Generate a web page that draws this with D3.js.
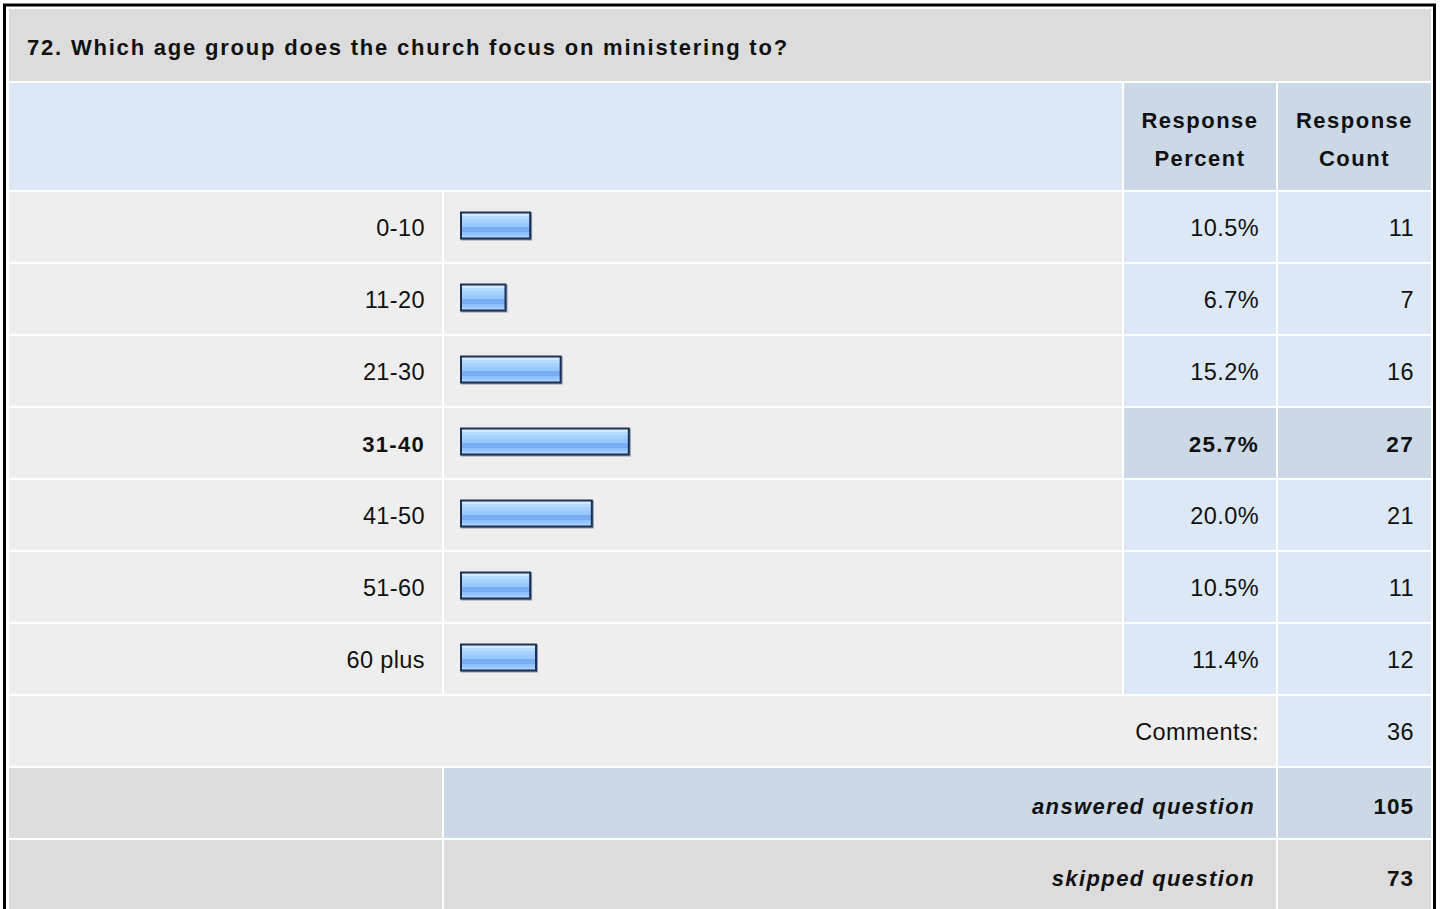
<!DOCTYPE html>
<html>
<head>
<meta charset="utf-8">
<script src="https://cdn.jsdelivr.net/npm/d3@7"></script>
<style>
  html, body { margin: 0; padding: 0; background: #ffffff; }
  svg { display: block; }
  text { font-family: "Liberation Sans", Arial, Helvetica, sans-serif; fill: #111; }
</style>
</head>
<body>
<div id="chart"></div>
<script>
// ---- data ----
const title = "72. Which age group does the church focus on ministering to?";
const headerPercent = ["Response", "Percent"];
const headerCount = ["Response", "Count"];
const categories = ["0-10", "11-20", "21-30", "31-40", "41-50", "51-60", "60 plus"];
const percents = [10.5, 6.7, 15.2, 25.7, 20.0, 10.5, 11.4];
const counts = [11, 7, 16, 27, 21, 11, 12];
const commentsLabel = "Comments:";
const commentsCount = 36;
const summaryLabels = ["answered question", "skipped question"];
const summaryCounts = [105, 73];

// ---- layout ----
const W = 1440, H = 909;
const svg = d3.select("#chart").append("svg").attr("width", W).attr("height", H);

const defs = svg.append("defs");
const grad = defs.append("linearGradient").attr("id", "barGrad")
  .attr("x1", 0).attr("y1", 0).attr("x2", 0).attr("y2", 1);
[
  [0, "#d3ebff"], [0.10, "#d3ebff"], [0.10, "#b7dcff"], [0.22, "#b7dcff"],
  [0.22, "#a4d1ff"], [0.39, "#a4d1ff"], [0.39, "#99c8ff"], [0.55, "#99c8ff"],
  [0.55, "#77adf2"], [0.79, "#77adf2"], [0.79, "#8fc1fb"], [0.89, "#8fc1fb"],
  [0.89, "#a3cfff"], [1, "#a3cfff"]
].forEach(([o, c]) => grad.append("stop").attr("offset", o).attr("stop-color", c));

const C = { title: "#dcdcdc", lab: "#eeeeee", lblue: "#dce8f5", dblue: "#cbd8e6", gray: "#dcdcdc" };

// columns
const col = {
  label: [9, 442],
  bar: [444, 1122],
  pct: [1124, 1276],
  cnt: [1278, 1431]
};
const rowY0 = 192, rowStep = 72, gap = 2, rowH = rowStep - gap;

// outer frame
svg.append("rect").attr("x", 4.5).attr("y", 5).attr("width", 1430).attr("height", 920)
  .attr("fill", "none").attr("stroke", "#000").attr("stroke-width", 3);

function cell(x0, x1, y0, y1, fill) {
  svg.append("rect").attr("x", x0).attr("y", y0).attr("width", x1 - x0).attr("height", y1 - y0).attr("fill", fill);
}
function txt(s, x, y, opts = {}) {
  return svg.append("text").attr("x", x).attr("y", y)
    .attr("text-anchor", opts.anchor || "end")
    .attr("font-size", opts.size || 23.5)
    .attr("font-weight", opts.bold ? "bold" : "normal")
    .attr("font-style", opts.italic ? "italic" : "normal")
    .attr("letter-spacing", opts.ls != null ? opts.ls : (opts.bold ? 1.3 : 0.4))
    .text(s);
}

// title row
cell(9, 1431, 9, 81, C.title);
txt(title, 27, 55, { anchor: "start", bold: true, size: 22, ls: 1.8 });

// header row
cell(9, 1122, 83, 190, C.lblue);
cell(col.pct[0], col.pct[1], 83, 190, C.dblue);
cell(col.cnt[0], col.cnt[1], 83, 190, C.dblue);
headerPercent.forEach((s, i) => txt(s, (col.pct[0] + col.pct[1]) / 2, 128 + i * 38, { anchor: "middle", bold: true, size: 22, ls: 1.5 }));
headerCount.forEach((s, i) => txt(s, (col.cnt[0] + col.cnt[1]) / 2, 128 + i * 38, { anchor: "middle", bold: true, size: 22, ls: 1.5 }));

// scales
const x = d3.scaleLinear().domain([0, 100]).range([0, 649]);
const y = d3.scaleBand().domain(categories)
  .range([rowY0, rowY0 + rowStep * categories.length - gap])
  .paddingInner(gap / rowStep).paddingOuter(0);
const maxIdx = percents.indexOf(d3.max(percents));

const rows = svg.append("g").selectAll("g").data(categories).join("g");
rows.each(function (cat, i) {
  const y0 = y(cat), y1 = y0 + y.bandwidth();
  const hl = i === maxIdx;
  cell(col.label[0], col.label[1], y0, y1, C.lab);
  cell(col.bar[0], col.bar[1], y0, y1, C.lab);
  cell(col.pct[0], col.pct[1], y0, y1, hl ? C.dblue : C.lblue);
  cell(col.cnt[0], col.cnt[1], y0, y1, hl ? C.dblue : C.lblue);
  const cy = (y0 + y1) / 2;
  txt(cat, 425, cy + 9, { bold: hl, size: hl ? 22 : 23.5 });
  txt(d3.format(".1f")(percents[i]) + "%", 1259, cy + 9, { bold: hl, size: hl ? 22.5 : 23.5 });
  txt(String(counts[i]), 1414, cy + 9, { bold: hl, size: hl ? 22.5 : 23.5 });

  // bar
  const bx = 460, bw = x(percents[i]) + 3, bh = 28, by = cy - 15.5;
  svg.append("rect").attr("x", bx + 1).attr("y", by + 1).attr("width", bw).attr("height", bh).attr("fill", "#8a96ab");
  svg.append("rect").attr("x", bx).attr("y", by).attr("width", bw).attr("height", bh).attr("fill", "#1c3254");
  svg.append("rect").attr("x", bx + 2).attr("y", by + 2).attr("width", bw - 4).attr("height", bh - 4).attr("fill", "url(#barGrad)");
});

// comments row
const cY0 = rowY0 + rowStep * categories.length; // 696
cell(9, 1276, cY0, cY0 + rowH, C.lab);
cell(col.cnt[0], col.cnt[1], cY0, cY0 + rowH, C.lblue);
txt(commentsLabel, 1259, cY0 + 44);
txt(String(commentsCount), 1414, cY0 + 44);

// summary rows
summaryLabels.forEach((lab, i) => {
  const y0 = cY0 + rowStep * (i + 1), y1 = y0 + rowH;
  const mid = i === 0 ? C.dblue : C.gray;
  cell(col.label[0], col.label[1], y0, y1, C.gray);
  cell(col.bar[0], col.pct[1], y0, y1, mid);
  cell(col.cnt[0], col.cnt[1], y0, y1, mid);
  txt(lab, 1255, y0 + 46, { bold: true, italic: true, size: 22, ls: 1.4 });
  txt(String(summaryCounts[i]), 1414, y0 + 46, { bold: true, size: 22.5, ls: 1 });
});
</script>
</body>
</html>
